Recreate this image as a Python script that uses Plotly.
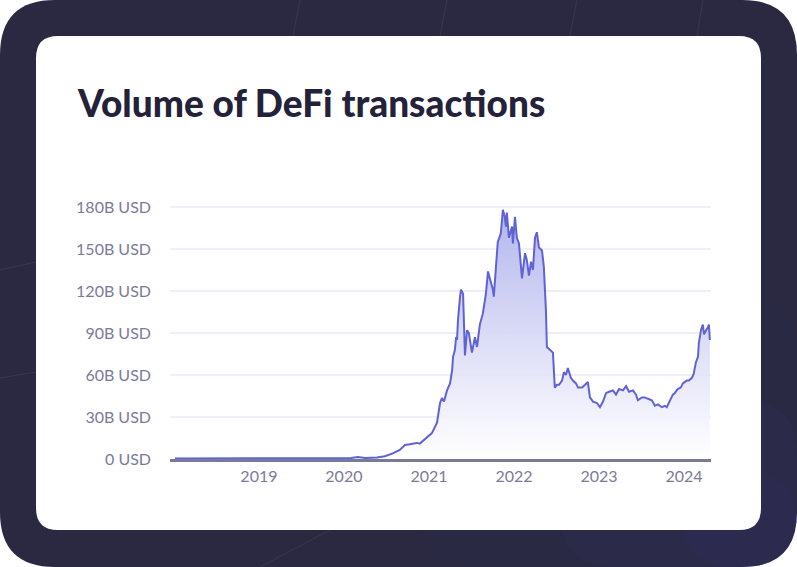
import plotly.graph_objects as go

# ---- data (billions of USD) ----
dates = [
    "2018-01-05", "2018-03-01", "2018-06-01", "2018-09-01", "2018-12-01",
    "2019-03-01", "2019-06-01", "2019-09-01", "2019-12-01", "2020-02-01",
    "2020-03-01", "2020-04-01", "2020-05-22", "2020-06-25", "2020-07-29",
    "2020-08-28", "2020-09-10", "2020-09-19", "2020-10-10", "2020-11-09",
    "2020-11-22", "2020-12-22", "2021-01-13", "2021-02-04", "2021-02-17",
    "2021-02-25", "2021-03-06", "2021-03-19", "2021-04-01", "2021-04-10",
    "2021-04-14", "2021-04-22", "2021-04-27", "2021-05-01", "2021-05-05",
    "2021-05-14", "2021-05-18", "2021-05-27", "2021-05-31", "2021-06-04",
    "2021-06-13", "2021-06-21", "2021-07-04", "2021-07-17", "2021-07-26",
    "2021-08-07", "2021-08-20", "2021-09-02", "2021-09-11", "2021-09-23",
    "2021-10-02", "2021-10-06", "2021-10-15", "2021-10-23", "2021-11-05",
    "2021-11-14", "2021-11-22", "2021-11-27", "2021-12-01", "2021-12-10",
    "2021-12-23", "2021-12-27", "2022-01-05", "2022-01-13", "2022-01-22",
    "2022-02-04", "2022-02-17", "2022-02-25", "2022-03-06", "2022-03-15",
    "2022-03-23", "2022-04-01", "2022-04-09", "2022-04-18", "2022-05-01",
    "2022-05-09", "2022-05-18", "2022-05-22", "2022-06-04", "2022-06-17",
    "2022-06-25", "2022-07-04", "2022-07-13", "2022-07-26", "2022-08-03",
    "2022-08-12", "2022-08-20", "2022-09-02", "2022-09-11", "2022-09-24",
    "2022-10-03", "2022-10-20", "2022-11-02", "2022-11-14", "2022-11-23",
    "2022-12-06", "2022-12-23", "2023-01-05", "2023-01-18", "2023-01-31",
    "2023-02-13", "2023-03-02", "2023-03-15", "2023-03-28", "2023-04-14",
    "2023-04-27", "2023-05-10", "2023-05-27", "2023-06-09", "2023-06-17",
    "2023-07-04", "2023-07-17", "2023-07-30", "2023-08-16", "2023-08-29",
    "2023-09-11", "2023-09-28", "2023-10-11", "2023-10-19", "2023-11-01",
    "2023-11-14", "2023-11-22", "2023-12-05", "2023-12-18", "2023-12-27",
    "2024-01-13", "2024-01-22", "2024-02-04", "2024-02-12", "2024-02-21",
    "2024-03-01", "2024-03-05", "2024-03-14", "2024-03-22", "2024-03-27",
    "2024-04-05", "2024-04-13", "2024-04-17", "2024-04-21",
]
volume_b = [
    0.4, 0.4, 0.3, 0.3, 0.3,
    0.4, 0.5, 0.5, 0.5, 0.8,
    1.5, 0.8, 1.0, 2.0, 4.0,
    6.5, 8.5, 10.0, 10.5, 11.5,
    11.0, 15.0, 18.5, 26.0, 40.0,
    43.5, 41.0, 49.0, 54.0, 63.5,
    73.0, 78.0, 87.0, 85.0, 99.0,
    116.0, 121.0, 118.0, 97.0, 74.0,
    92.0, 90.0, 76.0, 87.0, 80.0,
    96.0, 104.0, 118.0, 134.0, 126.0,
    121.0, 116.0, 137.0, 155.0, 161.0,
    178.0, 173.0, 166.0, 176.0, 158.0,
    166.0, 154.0, 173.0, 158.0, 154.0,
    129.0, 147.0, 142.0, 131.0, 141.0,
    135.0, 158.0, 162.0, 151.0, 149.0,
    137.0, 106.0, 80.0, 78.0, 76.0,
    51.0, 53.0, 53.0, 56.0, 62.0,
    60.0, 65.0, 58.0, 56.0, 54.0,
    51.0, 51.0, 53.0, 55.0, 44.0,
    41.0, 40.0, 37.0, 41.0, 47.0,
    48.0, 49.0, 46.0, 50.0, 49.0,
    52.0, 48.0, 49.0, 46.0, 42.0,
    44.0, 44.0, 43.0, 42.0, 38.0,
    39.0, 37.0, 38.0, 37.0, 42.0,
    46.0, 47.0, 50.0, 51.0, 54.0,
    56.0, 56.0, 58.0, 61.0, 69.0,
    73.0, 83.0, 92.0, 96.0, 89.0,
    92.0, 94.0, 96.0, 85.0,
]
y_ticks = [0, 30, 60, 90, 120, 150, 180]
y_tick_labels = ["0 USD", "30B USD", "60B USD", "90B USD", "120B USD", "150B USD", "180B USD"]
x_ticks = ["2019-01-01", "2020-01-01", "2021-01-01", "2022-01-01", "2023-01-01", "2024-01-01"]
x_tick_labels = ["2019", "2020", "2021", "2022", "2023", "2024"]
title_text = "Volume of DeFi transactions"

# ---- layout geometry (pixels) ----
W, H = 797, 567
L, R, T, B = 170, 711, 200, 459
PW, PH = R - L, B - T


def px(x):
    return (x - L) / PW


def py(y):
    return (B - y) / PH


def rrect(x0, y0, x1, y1, r):
    pts = []
    pts.append(f"M {px(x0 + r)} {py(y0)}")
    pts.append(f"L {px(x1 - r)} {py(y0)}")
    pts.append(f"Q {px(x1)} {py(y0)} {px(x1)} {py(y0 + r)}")
    pts.append(f"L {px(x1)} {py(y1 - r)}")
    pts.append(f"Q {px(x1)} {py(y1)} {px(x1 - r)} {py(y1)}")
    pts.append(f"L {px(x0 + r)} {py(y1)}")
    pts.append(f"Q {px(x0)} {py(y1)} {px(x0)} {py(y1 - r)}")
    pts.append(f"L {px(x0)} {py(y0 + r)}")
    pts.append(f"Q {px(x0)} {py(y0)} {px(x0 + r)} {py(y0)}")
    pts.append("Z")
    return " ".join(pts)


shapes = [
    dict(type="path", xref="paper", yref="paper", path=rrect(0, 0, W, H, 55),
         fillcolor="#2a2941", line=dict(width=0), layer="below"),
]
# subtle bluish tint toward the lower right of the frame
for (x0, y0, a) in [(420, 300, 0.05), (560, 400, 0.07), (680, 470, 0.09)]:
    shapes.append(dict(type="path", xref="paper", yref="paper",
                       path=rrect(x0, y0, W, H, 55),
                       fillcolor=f"rgba(60,58,140,{a})", line=dict(width=0), layer="below"))
# faint decorative lines on the dark frame
for (x0, y0, x1, y1) in [(300, 0, 293, 36), (447, 0, 440, 36), (577, 0, 570, 36),
                         (703, 0, 697, 36), (0, 270, 36, 262), (0, 378, 36, 372),
                         (260, 567, 330, 530)]:
    shapes.append(dict(type="line", xref="paper", yref="paper",
                       x0=px(x0), y0=py(y0), x1=px(x1), y1=py(y1),
                       line=dict(color="rgba(255,255,255,0.07)", width=1), layer="below"))
shapes.append(dict(type="path", xref="paper", yref="paper", path=rrect(36, 36, 761, 530, 22),
                   fillcolor="#ffffff", line=dict(width=0), layer="below"))

fig = go.Figure()
fig.add_trace(go.Scatter(
    x=dates, y=volume_b, mode="lines",
    line=dict(color="#5f63d6", width=2),
    fill="tozeroy",
    fillgradient=dict(type="vertical",
                      colorscale=[[0, "rgba(255,255,255,0.9)"], [1, "rgba(176,178,236,0.95)"]]),
    hoverinfo="skip",
))

fig.update_layout(
    width=W, height=H,
    margin=dict(l=L, r=W - R, t=T, b=H - B, pad=0),
    paper_bgcolor="#ffffff",
    plot_bgcolor="rgba(0,0,0,0)",
    showlegend=False,
    shapes=shapes,
    font=dict(family="Lato, sans-serif", color="#7c7a99", size=16),
    annotations=[dict(
        text=title_text, xref="paper", yref="paper",
        x=px(75), y=py(102), xanchor="left", yanchor="middle", showarrow=False,
        font=dict(family="Lato, sans-serif", size=37, color="#24223a", weight=900),
    )],
    xaxis=dict(
        type="date", range=["2017-12-15", "2024-04-26"],
        tickvals=x_ticks, ticktext=x_tick_labels,
        showgrid=False, zeroline=False,
        showline=True, linecolor="#7b7997", linewidth=2.5,
        ticks="", tickfont=dict(size=16, color="#7c7a99"),
        ticklabelstandoff=1,
    ),
    yaxis=dict(
        range=[0, 185], tickvals=y_ticks, ticktext=y_tick_labels,
        showgrid=True, gridcolor="#efeefc", gridwidth=1.6,
        zeroline=False, showline=False, ticks="",
        tickfont=dict(size=16, color="#7c7a99"),
        ticklabelstandoff=18,
    ),
)

fig.write_html("out.html", config={"displayModeBar": False},
               post_script="document.body.style.margin='0';document.body.style.overflow='hidden';")
